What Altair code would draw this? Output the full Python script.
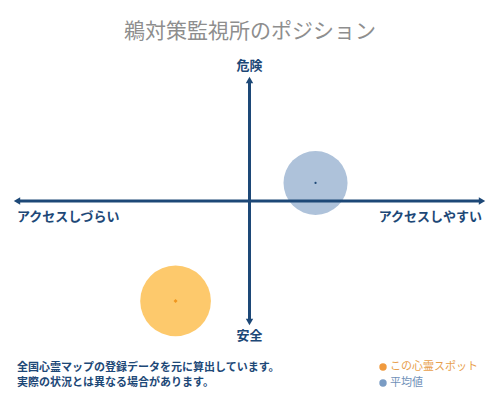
import altair as alt
import pandas as pd

# ---- data ----
spot_names = ["この心霊スポット", "平均値"]
spot_x = [-0.318, 0.284]   # アクセスしづらい(-1) ... アクセスしやすい(+1)
spot_y = [-0.826, 0.149]   # 安全(-1) ... 危険(+1)

title_text = "鵜対策監視所のポジション"
label_top = "危険"
label_bottom = "安全"
label_left = "アクセスしづらい"
label_right = "アクセスしやすい"
note_lines = ["全国心霊マップの登録データを元に算出しています。", "実際の状況とは異なる場合があります。"]
legend_labels = ["この心霊スポット", "平均値"]

NAVY = "#1d4877"
FONT = "Noto Sans CJK JP"

spots = pd.DataFrame({"name": spot_names, "x": spot_x, "y": spot_y})
hline = pd.DataFrame({"x": [-1], "x2": [1], "y": [0]})
vline = pd.DataFrame({"x": [0], "y": [-1], "y2": [1]})
heads = pd.DataFrame({
    "x": [-1, 1, 0, 0],
    "y": [0, 0, 1, -1],
    "shape": ["triangle-left", "triangle-right", "triangle-up", "triangle-down"],
})
one = pd.DataFrame({"t": [0]})

xs = alt.Scale(domain=[-1, 1], range=[9, 474])
ys = alt.Scale(domain=[-1, 1], range=[264, 22])
X = lambda f="x": alt.X(f"{f}:Q", scale=xs, axis=None)
Y = lambda f="y": alt.Y(f"{f}:Q", scale=ys, axis=None)

orange_circle = alt.Chart(spots).transform_filter(alt.datum.name == spot_names[0]).mark_circle(
    size=5000, color="#fdc96c", opacity=1).encode(x=X(), y=Y())
blue_circle = alt.Chart(spots).transform_filter(alt.datum.name == spot_names[1]).mark_circle(
    size=4100, color="#aec2da", opacity=1).encode(x=X(), y=Y())
orange_dot = alt.Chart(spots).transform_filter(alt.datum.name == spot_names[0]).mark_point(
    shape="diamond", filled=True, size=16, color="#f0961e", opacity=1).encode(x=X(), y=Y())
blue_dot = alt.Chart(spots).transform_filter(alt.datum.name == spot_names[1]).mark_circle(
    size=5, color=NAVY, opacity=1).encode(x=X(), y=Y())

h_rule = alt.Chart(hline).mark_rule(strokeWidth=3, color=NAVY).encode(x=X(), x2="x2:Q", y=Y())
v_rule = alt.Chart(vline).mark_rule(strokeWidth=3, color=NAVY).encode(x=X(), y=Y(), y2="y2:Q")
arrow_heads = alt.Chart(heads).mark_point(filled=True, size=55, color=NAVY, opacity=1).encode(
    x=X(), y=Y(), shape=alt.Shape("shape:N", scale=None, legend=None))

def axis_label(text, xv, yv, align, dy):
    d = pd.DataFrame({"x": [xv], "y": [yv], "label": [text]})
    return alt.Chart(d).mark_text(align=align, baseline="middle", dy=dy, font=FONT,
                                  fontSize=13, fontWeight="bold", color=NAVY).encode(
        x=X(), y=Y(), text="label:N")

lab_top = axis_label(label_top, 0, 1, "center", -14)
lab_bottom = axis_label(label_bottom, 0, -1, "center", 14)
lab_left = axis_label(label_left, -1, 0, "left", 16)
lab_right = axis_label(label_right, 1, 0, "right", 16)

def note(text, yv):
    return alt.Chart(one).mark_text(align="left", baseline="middle", font=FONT, fontSize=11,
                                    fontWeight="bold", color=NAVY).encode(
        x=alt.value(9), y=alt.value(yv), text=alt.value(text))

note1 = note(note_lines[0], 310)
note2 = note(note_lines[1], 325)

def legend_item(text, yv, dot_color, text_color):
    dot = alt.Chart(one).mark_circle(size=55, color=dot_color, opacity=1).encode(
        x=alt.value(375), y=alt.value(yv))
    lab = alt.Chart(one).mark_text(align="left", baseline="middle", font=FONT, fontSize=11,
                                   color=text_color).encode(
        x=alt.value(382), y=alt.value(yv), text=alt.value(text))
    return dot + lab

leg1 = legend_item(legend_labels[0], 309, "#f09a3e", "#e8a04c")
leg2 = legend_item(legend_labels[1], 325, "#7a9cc4", "#6f90b8")

chart = alt.layer(
    orange_circle, blue_circle, h_rule, v_rule, arrow_heads, orange_dot, blue_dot,
    lab_top, lab_bottom, lab_left, lab_right, note1, note2, leg1, leg2,
).properties(
    width=484, height=334,
    autosize=alt.AutoSizeParams(type="none"),
    padding={"top": 50, "left": 0, "right": 0, "bottom": 0},
    title=alt.TitleParams(title_text, font=FONT, fontSize=21, fontWeight="normal",
                          color="#8e8e8e", anchor="middle", offset=16),
).configure_view(stroke=None)

chart.save("out.html", embed_options={"renderer": "svg", "actions": False})
